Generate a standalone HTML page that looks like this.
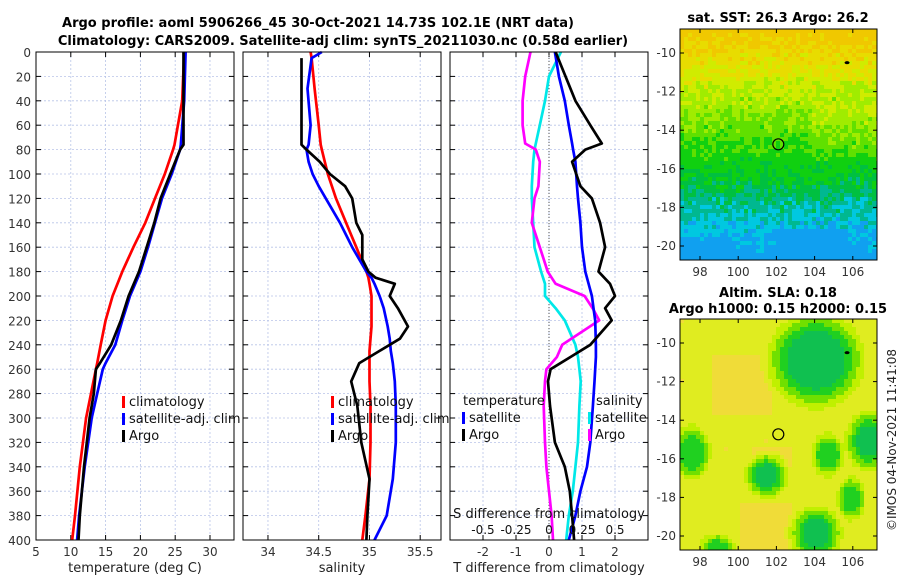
<!DOCTYPE html>
<html><head><meta charset="utf-8"><style>
html,body{margin:0;padding:0;background:#fff;}
svg text{font-family:"DejaVu Sans","Liberation Sans",sans-serif;}
</style></head><body>
<svg id="s" width="900" height="580" viewBox="0 0 900 580" xmlns="http://www.w3.org/2000/svg">
<text x="318" y="27" text-anchor="middle" font-size="13" font-weight="bold">Argo profile: aoml 5906266_45 30-Oct-2021 14.73S 102.1E (NRT data)</text>
<text x="343" y="45" text-anchor="middle" font-size="13" font-weight="bold">Climatology: CARS2009. Satellite-adj clim: synTS_20211030.nc (0.58d earlier)</text>
<text x="778" y="22" text-anchor="middle" font-size="13" font-weight="bold">sat. SST: 26.3 Argo: 26.2</text>
<text x="778" y="297" text-anchor="middle" font-size="13" font-weight="bold">Altim. SLA: 0.18</text>
<text x="778" y="313" text-anchor="middle" font-size="13" font-weight="bold">Argo h1000: 0.15 h2000: 0.15</text>
<text transform="translate(896,440) rotate(-90)" text-anchor="middle" font-size="12" fill="#222">©IMOS 04-Nov-2021 11:41:08</text>
<g id="plots"></g>
</svg>
<script>
// ---- data ----
const depthT = [0,40,76,80,100,120,140,160,180,200,220,240,255,260,280,300,340,380,400];
const tempClim = [26.3,26.0,24.9,24.7,23.5,22.1,20.7,19.0,17.4,16.0,15.0,14.3,13.8,13.6,12.9,12.2,11.3,10.6,10.2];
const tempSat  = [26.5,26.3,25.8,25.7,24.5,23.1,22.1,21.1,20.0,18.5,17.4,16.4,15.0,14.6,13.8,13.0,12.0,11.2,10.9];
const tempArgo = [26.2,26.2,26.2,25.7,24.3,22.9,22.0,20.9,19.8,18.3,17.2,15.8,14.2,13.6,13.3,12.7,11.9,11.3,11.1];
const depthS = [0,5,30,60,76,80,90,100,110,120,140,150,160,170,180,185,190,200,210,225,235,245,255,270,290,320,350,380,400];
const salClim = [34.42,34.43,34.46,34.50,34.52,34.53,34.56,34.59,34.63,34.67,34.77,34.82,34.87,34.92,34.97,34.99,35.00,35.02,35.02,35.02,35.01,35.00,35.00,35.00,35.01,35.01,35.00,34.96,34.93];
const salSat  = [34.53,34.43,34.39,34.42,34.40,34.38,34.40,34.44,34.50,34.57,34.71,34.77,34.83,34.90,34.97,35.02,35.05,35.10,35.14,35.18,35.20,35.21,35.23,35.25,35.26,35.26,35.23,35.17,35.05];
const salArgo = [null,34.33,34.33,34.33,34.33,34.38,34.51,34.61,34.76,34.83,34.87,34.93,34.93,34.93,34.99,35.06,35.25,35.20,35.28,35.38,35.30,35.10,34.90,34.82,34.88,34.92,35.00,34.98,34.97];
const depthD = [0,20,40,60,75,80,90,110,120,140,160,180,190,200,210,220,240,250,260,270,290,320,340,360,380,400];
const dTArgo = [0.2,0.5,0.8,1.25,1.6,1.1,0.7,0.95,1.3,1.55,1.7,1.5,1.85,2.0,1.7,1.9,1.25,0.65,0.05,-0.03,0.03,0.18,0.48,0.63,0.7,0.76];
const dTSat  = [0.18,0.3,0.48,0.6,0.7,0.73,0.8,0.85,0.88,0.95,1.0,1.1,1.2,1.3,1.35,1.4,1.42,1.42,1.4,1.38,1.33,1.25,1.15,0.95,0.8,0.6];
const dSSat  = [0.09,0.0,-0.03,-0.07,-0.1,-0.11,-0.12,-0.13,-0.13,-0.12,-0.11,-0.06,-0.03,-0.03,0.05,0.12,0.2,0.22,0.23,0.24,0.23,0.22,0.2,0.18,0.15,0.13];
const dSArgo = [-0.14,-0.18,-0.2,-0.2,-0.18,-0.1,-0.07,-0.08,-0.11,-0.13,-0.07,-0.01,0.05,0.27,0.33,0.38,0.1,0.06,-0.02,-0.03,-0.04,-0.03,-0.02,-0.0,0.02,0.03];
const tTicks = [5,10,15,20,25,30];
const sTicks = [34,34.5,35,35.5];
const dTicks = [-2,-1,0,1,2];
const dsTicks = [-0.5,-0.25,0,0.25,0.5];
const depthTicks = [0,20,40,60,80,100,120,140,160,180,200,220,240,260,280,300,320,340,360,380,400];
const lonTicks = [98,100,102,104,106];
const latTicks = [-10,-12,-14,-16,-18,-20];

const NS="http://www.w3.org/2000/svg";
const root=document.getElementById('plots');
function mk(tag,attrs,parent){const e=document.createElementNS(NS,tag);for(const k in attrs)e.setAttribute(k,attrs[k]);(parent||root).appendChild(e);return e;}
const Y0=52,Y1=540;
const yD=d=>Y0+(Y1-Y0)*d/400;

function panel(name,x0,x1,vmin,vmax,ticks,xlabel){
  const g=mk('g',{});
  
  
  const xs=v=>x0+(x1-x0)*(v-vmin)/(vmax-vmin);
  depthTicks.forEach(d=>{const l=mk('line',{x1:x0,x2:x1,y1:yD(d),y2:yD(d),stroke:'#b8c4e8','stroke-width':0.8,'stroke-dasharray':'2,2'},g);});
  ticks.forEach(t=>{const X=xs(t);const l=mk('line',{x1:X,x2:X,y1:Y0,y2:Y1,stroke:'#b8c4e8','stroke-width':0.8,'stroke-dasharray':'2,2'},g);
    mk('line',{x1:X,x2:X,y1:Y1,y2:Y1-5,stroke:'#000'},g);mk('line',{x1:X,x2:X,y1:Y0,y2:Y0+5,stroke:'#000'},g);
    const tx=mk('text',{x:X,y:Y1+16,'text-anchor':'middle','font-size':12,fill:'#333'},g);tx.textContent=String(t);});
  depthTicks.forEach(d=>{mk('line',{x1:x0,x2:x0+5,y1:yD(d),y2:yD(d),stroke:'#000'},g);mk('line',{x1:x1,x2:x1-5,y1:yD(d),y2:yD(d),stroke:'#000'},g);});
  const t=mk('text',{x:(x0+x1)/2,y:Y1+32,'text-anchor':'middle','font-size':13,fill:'#222'},g);t.textContent=xlabel;
  
  return {g,xs};
}
function line(p,vals,depths,color,name,sc){
  let d='';let first=true;
  vals.forEach((v,i)=>{if(v===null)return;const X=p.xs(v*(sc||1)),Y=yD(depths[i]);d+=(first?'M':'L')+X.toFixed(1)+','+Y.toFixed(1);first=false;});
  const e=mk('path',{d:d,fill:'none',stroke:color,'stroke-width':2.7,'stroke-linejoin':'round'},p.g);
  
  
}
function frame(p,x0,x1){const r=mk('rect',{x:x0,y:Y0,width:x1-x0,height:Y1-Y0,fill:'none',stroke:'#000','stroke-width':1},p.g);}
function legend(p,x,y,items){
  items.forEach((it,i)=>{const yy=y+i*17;
    const m=mk('rect',{x:x,y:yy-10,width:3,height:12,fill:it[1]},p.g);
    const t=mk('text',{x:x+7,y:yy,'font-size':13,fill:'#111'},p.g);t.textContent=it[0];});
}

depthTicks.forEach(d=>{const t=mk('text',{x:31,y:yD(d)+5,'text-anchor':'end','font-size':12,fill:'#333'});t.textContent=String(d);
  });

const p1=panel('temperature-panel',36,234,5,33.45,tTicks,'temperature (deg C)');
line(p1,tempClim,depthT,'#ff0000','temp-climatology-line');
line(p1,tempSat,depthT,'#0000ff','temp-satellite-line');
line(p1,tempArgo,depthT,'#000000','temp-argo-line');
legend(p1,122,406,[['climatology','#ff0000'],['satellite-adj. clim','#0000ff'],['Argo','#000']]);
frame(p1,36,234);
const p2=panel('salinity-panel',243,441,33.754,35.705,sTicks,'salinity');
line(p2,salClim,depthS,'#ff0000','sal-climatology-line');
line(p2,salSat,depthS,'#0000ff','sal-satellite-line');
line(p2,salArgo,depthS,'#000000','sal-argo-line');
legend(p2,331,406,[['climatology','#ff0000'],['satellite-adj. clim','#0000ff'],['Argo','#000']]);
frame(p2,243,441);
const p3=panel('difference-panel',450,648,-3.0,3.0,dTicks,'T difference from climatology');
const zx=p3.xs(0);
const zl=mk('line',{x1:zx,x2:zx,y1:Y0,y2:Y1,stroke:'#555','stroke-width':1,'stroke-dasharray':'1,2'},p3.g);

line(p3,dSSat,depthD,'#00e8e8','sal-diff-satellite-line',4);
line(p3,dSArgo,depthD,'#ff00ff','sal-diff-argo-line',4);
line(p3,dTSat,depthD,'#0000ff','temp-diff-satellite-line');
line(p3,dTArgo,depthD,'#000000','temp-diff-argo-line');
{const t=mk('text',{x:463,y:405,'font-size':13,fill:'#111'},p3.g);t.textContent='temperature';
 const t2=mk('text',{x:596,y:405,'font-size':13,fill:'#111'},p3.g);t2.textContent='salinity';}
legend(p3,462,422,[['satellite','#0000ff'],['Argo','#000']]);
legend(p3,588,422,[['satellite','#00e8e8'],['Argo','#ff00ff']]);
{const t=mk('text',{x:549,y:518,'text-anchor':'middle','font-size':13,fill:'#111'},p3.g);t.textContent='S difference from climatology';
 dsTicks.forEach(v=>{const tx=mk('text',{x:p3.xs(v*4),y:534,'text-anchor':'middle','font-size':12,fill:'#111'},p3.g);tx.textContent=String(v);});}
frame(p3,450,648);

// ---- maps ----
function hash(i,j){let h=(i*374761393+j*668265263)>>>0;h=((h^(h>>>13))*1274126177)>>>0;return ((h^(h>>>16))&1023)/1023;}
function map(name,x0,y0,x1,y1,latTopY,latBotY,cellfn){
  const g=mk('g',{});
  const cs=4;
  for(let j=0;y0+j*cs<y1;j++)for(let i=0;x0+i*cs<x1;i++){
    const c=cellfn(i,j,(j*cs)/(y1-y0),(i*cs)/(x1-x0));
    mk('rect',{x:x0+i*cs,y:y0+j*cs,width:Math.min(cs,x1-x0-i*cs)+0.3,height:Math.min(cs,y1-y0-j*cs)+0.3,fill:c},g);
  }
  const lonX=l=>700+(l-98)*19.1;
  const latY=la=>latTopY+(latBotY-latTopY)*(-10-la)/10;
  lonTicks.forEach(l=>{const X=lonX(l);mk('line',{x1:X,x2:X,y1:y1,y2:y1-4,stroke:'#000'},g);mk('line',{x1:X,x2:X,y1:y0,y2:y0+4,stroke:'#000'},g);
    const t=mk('text',{x:X,y:y1+16,'text-anchor':'middle','font-size':12,fill:'#333'},g);t.textContent=String(l);});
  latTicks.forEach(la=>{const Y=latY(la);mk('line',{x1:x0,x2:x0+4,y1:Y,y2:Y,stroke:'#000'},g);mk('line',{x1:x1,x2:x1-4,y1:Y,y2:Y,stroke:'#000'},g);
    const t=mk('text',{x:x0-4,y:Y+4,'text-anchor':'end','font-size':12,fill:'#333'},g);t.textContent=String(la);});
  const c=mk('circle',{cx:lonX(102.1),cy:latY(-14.73),r:5.5,fill:'none',stroke:'#000','stroke-width':1.2},g);
  mk('ellipse',{cx:lonX(105.7),cy:latY(-10.5),rx:2.5,ry:1.5,fill:'#000'},g);
  mk('rect',{x:x0,y:y0,width:x1-x0,height:y1-y0,fill:'none',stroke:'#000'},g);
}
const sstPal=[[0,'#f0c800'],[0.1,'#e8dc00'],[0.2,'#d0ec00'],[0.3,'#a0ec00'],[0.4,'#60e000'],[0.52,'#10d010'],[0.66,'#00c040'],[0.74,'#00b890'],[0.82,'#00c8e0'],[0.92,'#10a0f0'],[1,'#0040d0']];
function pal(p,t){t=Math.max(0,Math.min(1,t));for(let k=1;k<p.length;k++)if(t<=p[k][0])return p[k-1][1];return p[p.length-1][1];}
map('sst-map',680,29,877,260,53,246,(i,j,ty,tx)=>{
  let t=0.03+ty*1.0+(hash(i,j)-0.5)*0.16;
  if(tx>0.5&&tx<0.85&&ty>0.85)t+=0.08;
  if(tx<0.25&&ty>0.9)t+=0.06;
  if(tx>0.65&&ty>0.3&&ty<0.55)t-=0.06;
  return pal(sstPal,t);
});
const blobs=[[0.68,0.17,0.2,0.17,1.2],[0.05,0.57,0.08,0.1,0.9],[0.95,0.52,0.1,0.11,1],[0.43,0.67,0.09,0.08,1],[0.74,0.58,0.07,0.08,0.9],[0.86,0.77,0.06,0.08,0.9],[0.68,0.92,0.11,0.1,1],[0.18,0.99,0.08,0.06,0.8]];
const slaPal=[[0,'#f0c840'],[0.22,'#f0dc38'],[0.34,'#e0ec20'],[0.48,'#c0f000'],[0.62,'#70e000'],[0.76,'#20d020'],[0.9,'#10c050'],[1,'#00b080']];
map('sla-map',680,319,877,550,343,536,(i,j,ty,tx)=>{
  let v=0.36+(hash(i,j)-0.5)*0.04;
  if((tx>0.35&&tx<0.55&&ty>0.55&&ty<0.7)||(tx>0.3&&tx<0.55&&ty>0.78)||(tx>0.15&&tx<0.45&&ty>0.15&&ty<0.4))v=0.28;
  blobs.forEach(b=>{const dx=(tx-b[0])/b[2],dy=(ty-b[1])/b[3];const r=Math.sqrt(dx*dx+dy*dy);if(r<1.4)v=Math.max(v,0.36+b[4]*0.55*Math.min(1,(1.4-r)/0.8));});
  return pal(slaPal,v);
});
</script>
</body></html>
